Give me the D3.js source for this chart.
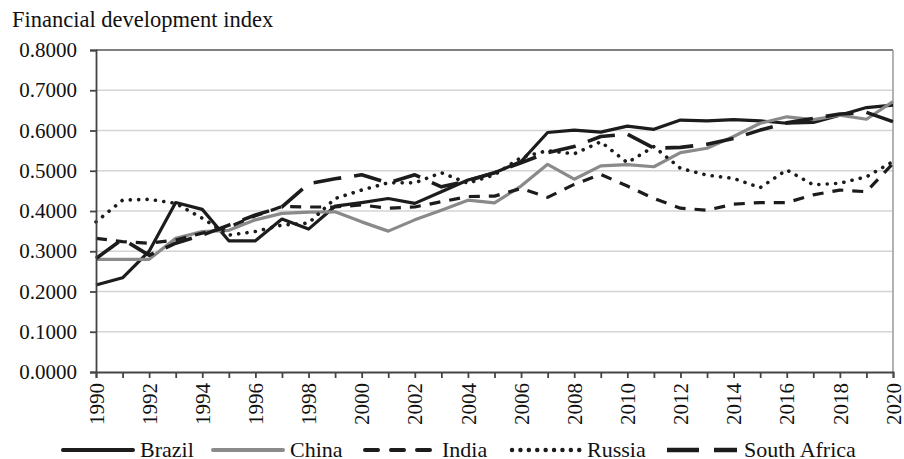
<!DOCTYPE html>
<html>
<head>
<meta charset="utf-8">
<script src="https://cdn.jsdelivr.net/npm/d3@7"></script>
<style>
  body { margin: 0; background: #fff; }
  svg text { font-family: 'Liberation Serif', 'Times New Roman', serif; fill: #111; }
</style>
</head>
<body>
<div id="chart"></div>
<script>
// values
const years = d3.range(1990, 2021);
const yTicks = [0, 0.1, 0.2, 0.3, 0.4, 0.5, 0.6, 0.7, 0.8];
const seriesNames = ['Brazil', 'China', 'India', 'Russia', 'South Africa'];

const brazil = [0.216, 0.234, 0.300, 0.421, 0.404, 0.326, 0.326, 0.380, 0.355, 0.412,
  0.421, 0.431, 0.419, 0.448, 0.477, 0.495, 0.523, 0.595, 0.601, 0.596,
  0.611, 0.603, 0.626, 0.624, 0.627, 0.624, 0.618, 0.620, 0.638, 0.657, 0.663];
const china = [0.280, 0.280, 0.280, 0.332, 0.349, 0.352, 0.378, 0.394, 0.397, 0.398,
  0.373, 0.350, 0.378, 0.402, 0.427, 0.420, 0.462, 0.516, 0.479, 0.512,
  0.515, 0.510, 0.545, 0.556, 0.585, 0.618, 0.634, 0.627, 0.638, 0.628, 0.672];
const india = [0.332, 0.324, 0.320, 0.328, 0.345, 0.360, 0.388, 0.411, 0.410, 0.410,
  0.415, 0.407, 0.410, 0.423, 0.436, 0.437, 0.456, 0.434, 0.466, 0.491,
  0.462, 0.431, 0.407, 0.402, 0.417, 0.421, 0.421, 0.440, 0.452, 0.448, 0.518];
const russia = [0.373, 0.427, 0.429, 0.419, 0.382, 0.340, 0.349, 0.365, 0.370, 0.431,
  0.452, 0.470, 0.470, 0.495, 0.469, 0.490, 0.533, 0.550, 0.542, 0.572,
  0.520, 0.560, 0.506, 0.489, 0.481, 0.458, 0.502, 0.465, 0.469, 0.485, 0.523];
const southAfrica = [0.282, 0.330, 0.290, 0.320, 0.340, 0.365, 0.390, 0.410, 0.468, 0.480,
  0.490, 0.470, 0.490, 0.460, 0.475, 0.495, 0.520, 0.545, 0.560, 0.585,
  0.591, 0.556, 0.558, 0.566, 0.580, 0.601, 0.619, 0.630, 0.641, 0.645, 0.622];

class LineChart {
  constructor(_config, _data) {
    this.config = {
      parentElement: _config.parentElement,
      containerWidth: 904,
      containerHeight: 459,
      margin: {
        top: 50, right: 11, bottom: 87, left: 96,
      },
    };
    this.data = _data;
    this.initVis();
  }

  initVis() {
    const vis = this;

    vis.width = vis.config.containerWidth - vis.config.margin.left - vis.config.margin.right;
    vis.height = vis.config.containerHeight - vis.config.margin.top - vis.config.margin.bottom;

    vis.svg = d3.select(vis.config.parentElement).append('svg')
      .attr('width', vis.config.containerWidth)
      .attr('height', vis.config.containerHeight);

    vis.chartArea = vis.svg.append('g')
      .attr('transform', `translate(${vis.config.margin.left},${vis.config.margin.top})`);

    vis.xScale = d3.scaleLinear()
      .domain([1990, 2020])
      .range([0, vis.width]);

    vis.yScale = d3.scaleLinear()
      .domain([0, 0.8])
      .range([vis.height, 0]);

    // line styles per series
    vis.styles = {
      Brazil: { color: '#1c1c1c', width: 3.2, dash: null, cap: 'butt' },
      China: { color: '#8a8a8a', width: 3.2, dash: null, cap: 'butt' },
      India: { color: '#1c1c1c', width: 3.2, dash: '11,9', cap: 'butt' },
      Russia: { color: '#1c1c1c', width: 3.6, dash: '0.1,8.3', cap: 'round' },
      'South Africa': { color: '#1c1c1c', width: 3.6, dash: '28,13', cap: 'butt' },
    };
  }

  updateVis() {
    const vis = this;

    vis.xAxis = d3.axisBottom(vis.xScale)
      .tickValues(years)
      .tickSize(6)
      .tickFormat((d) => (d % 2 === 0 ? d : ''));

    vis.yAxis = d3.axisLeft(vis.yScale)
      .tickValues(yTicks)
      .tickSize(6)
      .tickPadding(13)
      .tickFormat(d3.format('.4f'));

    vis.line = d3.line()
      .x((d) => vis.xScale(d.year))
      .y((d) => vis.yScale(d.value));

    vis.renderVis();
  }

  renderVis() {
    const vis = this;

    // gridlines
    vis.chartArea.append('g')
      .selectAll('line')
      .data(yTicks.filter((d) => d > 0 && d < 0.8))
      .join('line')
      .attr('x1', 0)
      .attr('x2', vis.width)
      .attr('y1', (d) => vis.yScale(d))
      .attr('y2', (d) => vis.yScale(d))
      .attr('stroke', '#d4d4d4')
      .attr('stroke-width', 1.3);

    // plot area border (top + right)
    vis.chartArea.append('line')
      .attr('x1', 0).attr('x2', vis.width)
      .attr('y1', vis.yScale(0.8)).attr('y2', vis.yScale(0.8))
      .attr('stroke', '#555').attr('stroke-width', 1.5);
    vis.chartArea.append('line')
      .attr('x1', vis.width).attr('x2', vis.width)
      .attr('y1', 0).attr('y2', vis.height)
      .attr('stroke', '#9a9a9a').attr('stroke-width', 1.5);

    // series
    vis.chartArea.selectAll('.series')
      .data(vis.data)
      .join('path')
      .attr('class', 'series')
      .attr('fill', 'none')
      .attr('stroke', (d) => vis.styles[d.name].color)
      .attr('stroke-width', (d) => vis.styles[d.name].width)
      .attr('stroke-dasharray', (d) => vis.styles[d.name].dash)
      .attr('stroke-linecap', (d) => vis.styles[d.name].cap)
      .attr('stroke-linejoin', 'round')
      .attr('d', (d) => vis.line(d.values));

    // axes
    vis.xAxisG = vis.chartArea.append('g')
      .attr('transform', `translate(0,${vis.height})`)
      .call(vis.xAxis);
    // odd years only carry a tick mark
    vis.xAxisG.selectAll('.tick text')
      .filter((d) => d % 2 !== 0)
      .remove();
    vis.xAxisG.selectAll('.tick text')
      .attr('transform', 'rotate(-90)')
      .attr('x', -11)
      .attr('y', 0)
      .attr('dy', '0.34em')
      .attr('text-anchor', 'end')
      .style('font-size', '21px');

    vis.yAxisG = vis.chartArea.append('g')
      .call(vis.yAxis);
    vis.yAxisG.selectAll('.tick text')
      .style('font-size', '21px');

    vis.svg.selectAll('.domain, .tick line')
      .attr('stroke', '#444')
      .attr('stroke-width', 1.8);

    // title
    vis.svg.append('text')
      .attr('x', 12)
      .attr('y', 27)
      .style('font-size', '22.5px')
      .text('Financial development index');

    // legend
    const legendX = [63, 213, 365, 510, 667];
    const legend = vis.svg.append('g')
      .selectAll('g')
      .data(vis.data)
      .join('g')
      .attr('transform', (d, i) => `translate(${legendX[i]},450)`);
    legend.append('line')
      .attr('x1', (d) => (d.name === 'Russia' ? 2 : 0))
      .attr('x2', 70)
      .attr('stroke', (d) => vis.styles[d.name].color)
      .attr('stroke-width', (d) => vis.styles[d.name].width + 0.8)
      .attr('stroke-dasharray', (d) => (d.name === 'South Africa' ? '32,15' : d.name === 'India' ? '13,13' : vis.styles[d.name].dash))
      .attr('stroke-linecap', (d) => (d.name === 'India' || d.name === 'Brazil' || d.name === 'China' ? 'round' : vis.styles[d.name].cap));
    legend.append('text')
      .attr('x', 77)
      .attr('y', 7)
      .style('font-size', '22px')
      .text((d) => d.name);
  }
}

const seriesValues = [brazil, china, india, russia, southAfrica];
const data = seriesNames.map((name, i) => ({
  name,
  values: years.map((year, j) => ({ year, value: seriesValues[i][j] })),
}));

const chart = new LineChart({ parentElement: '#chart' }, data);
chart.updateVis();
</script>
</body>
</html>
